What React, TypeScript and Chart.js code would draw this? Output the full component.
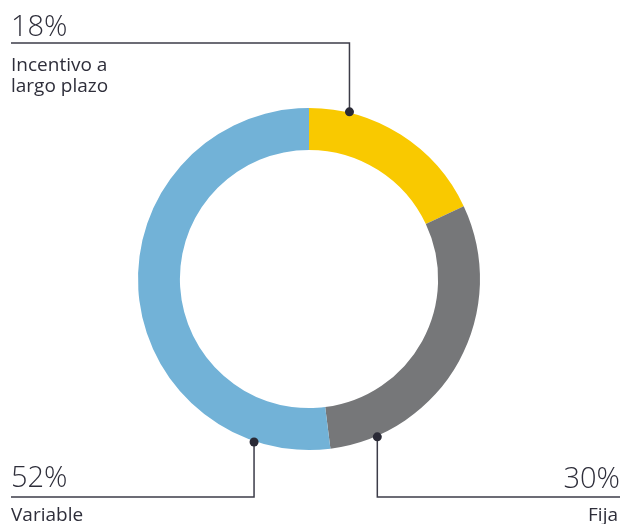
import React, { useEffect, useRef } from "react";
import { Chart, registerables } from "chart.js";

Chart.register(...registerables);

const categories = ["Incentivo a largo plazo", "Fija", "Variable"];
const values = [18, 30, 52];
const percentLabels = ["18%", "30%", "52%"];
const labelLines = [["Incentivo a", "largo plazo"], ["Fija"], ["Variable"]];
const colors = ["#F9C900", "#767779", "#72B2D7"];

// where along each segment the leader-line dot sits (fraction of the segment)
const anchorFrac = [0.21, 0.85, 0.138];

const INK = "#2E2E3A";
const LINE = "#3C3C48";

const leaderPlugin = {
  id: "leaders",
  afterDraw(chart: any) {
    const ctx = chart.ctx as CanvasRenderingContext2D;
    const meta = chart.getDatasetMeta(0);
    const W = chart.width;
    const leftX = 11;
    const rightX = W - 7;
    const topLineY = 43;
    const botLineY = 497;

    const anchors = meta.data.map((arc: any, i: number) => {
      const a = arc.startAngle + (arc.endAngle - arc.startAngle) * anchorFrac[i];
      const r = arc.outerRadius + 1;
      return { x: arc.x + r * Math.cos(a), y: arc.y + r * Math.sin(a) };
    });

    ctx.save();
    ctx.strokeStyle = LINE;
    ctx.lineWidth = 1.5;
    ctx.lineJoin = "miter";

    // top-left (index 0)
    const p0 = anchors[0];
    ctx.beginPath();
    ctx.moveTo(leftX, topLineY);
    ctx.lineTo(p0.x, topLineY);
    ctx.lineTo(p0.x, p0.y);
    ctx.stroke();

    // bottom-right (index 1)
    const p1 = anchors[1];
    ctx.beginPath();
    ctx.moveTo(p1.x, p1.y);
    ctx.lineTo(p1.x, botLineY);
    ctx.lineTo(rightX, botLineY);
    ctx.stroke();

    // bottom-left (index 2)
    const p2 = anchors[2];
    ctx.beginPath();
    ctx.moveTo(leftX, botLineY);
    ctx.lineTo(p2.x, botLineY);
    ctx.lineTo(p2.x, p2.y);
    ctx.stroke();

    // dots
    ctx.fillStyle = "#2A2A36";
    anchors.forEach((p: any) => {
      ctx.beginPath();
      ctx.arc(p.x, p.y, 4.5, 0, Math.PI * 2);
      ctx.fill();
    });

    // texts
    ctx.fillStyle = INK;
    ctx.textBaseline = "alphabetic";
    const pctFont = "300 29px 'Open Sans'";
    const lblFont = "400 19px 'Open Sans'";

    ctx.textAlign = "left";
    ctx.font = pctFont;
    ctx.fillText(percentLabels[0], leftX, 36);
    ctx.font = lblFont;
    ctx.fillText(labelLines[0][0], leftX, 71);
    ctx.fillText(labelLines[0][1], leftX, 92);

    ctx.font = pctFont;
    ctx.fillText(percentLabels[2], leftX, 487);
    ctx.font = lblFont;
    ctx.fillText(labelLines[2][0], leftX, 521);

    ctx.textAlign = "right";
    ctx.font = pctFont;
    ctx.fillText(percentLabels[1], rightX, 488);
    ctx.font = lblFont;
    ctx.fillText(labelLines[1][0], rightX - 2, 521);

    ctx.restore();
  },
};

export default function App() {
  const ref = useRef<HTMLCanvasElement | null>(null);

  useEffect(() => {
    document.body.style.margin = "0";
    if (!ref.current) return;
    const chart = new Chart(ref.current, {
      type: "doughnut",
      data: {
        labels: categories,
        datasets: [
          {
            data: values,
            backgroundColor: colors,
            borderWidth: 0,
          },
        ],
      },
      options: {
        animation: false,
        responsive: false,
        maintainAspectRatio: false,
        cutout: "75.5%",
        layout: { padding: { left: 138, right: 147, top: 108, bottom: 74 } },
        plugins: {
          legend: { display: false },
          tooltip: { enabled: false },
        },
      },
      plugins: [leaderPlugin],
    });
    return () => chart.destroy();
  }, []);

  return (
    <div style={{ width: 627, height: 524, position: "relative", background: "#fff" }}>
      <canvas ref={ref} width={627} height={524} style={{ display: "block" }} />
    </div>
  );
}
